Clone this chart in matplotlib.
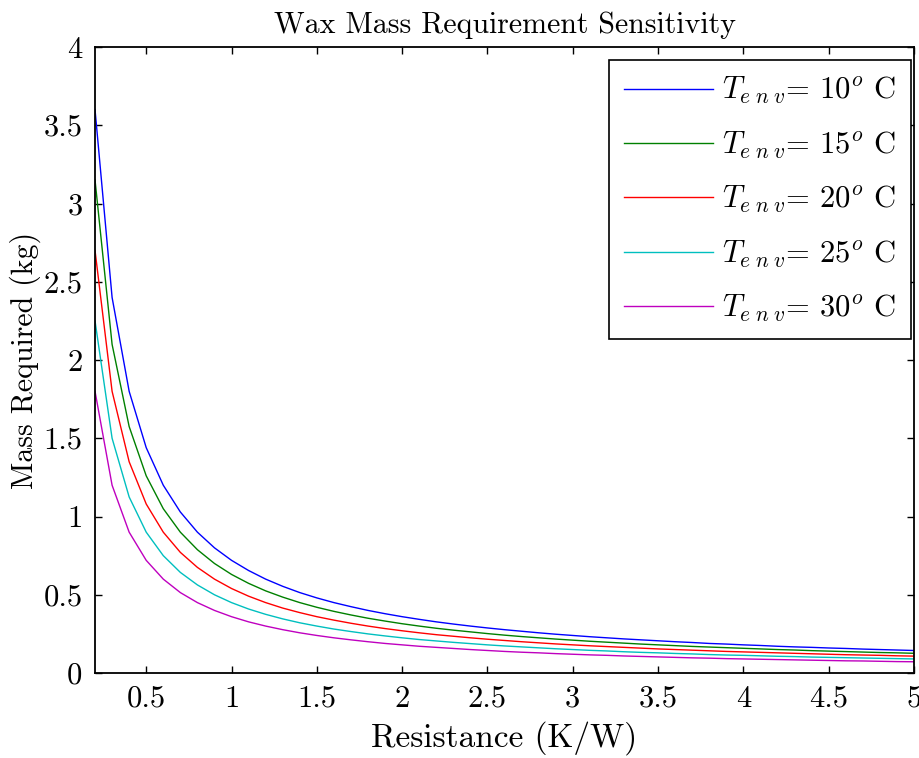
import matplotlib
matplotlib.use("Agg")
import matplotlib.pyplot as plt
import numpy as np

plt.rcParams['font.family'] = ['cmr10', 'DejaVu Serif']
plt.rcParams['mathtext.fontset'] = 'cm'
plt.rcParams['axes.formatter.use_mathtext'] = True

# thermal resistance (K/W)
resistance = [0.2, 0.3, 0.4, 0.5, 0.6, 0.7, 0.8, 0.9, 1.0,
              1.1, 1.2, 1.3, 1.4, 1.5, 1.6, 1.7, 1.8, 1.9, 2.0,
              2.1, 2.2, 2.3, 2.4, 2.5, 2.6, 2.7, 2.8, 2.9, 3.0,
              3.1, 3.2, 3.3, 3.4, 3.5, 3.6, 3.7, 3.8, 3.9, 4.0,
              4.1, 4.2, 4.3, 4.4, 4.5, 4.6, 4.7, 4.8, 4.9, 5.0]

# wax mass (kg) for each environment temperature
mass_10 = [3.600, 2.400, 1.800, 1.440, 1.200, 1.029, 0.900, 0.800, 0.720,
           0.655, 0.600, 0.554, 0.514, 0.480, 0.450, 0.424, 0.400, 0.379, 0.360,
           0.343, 0.327, 0.313, 0.300, 0.288, 0.277, 0.267, 0.257, 0.248, 0.240,
           0.232, 0.225, 0.218, 0.212, 0.206, 0.200, 0.195, 0.189, 0.185, 0.180,
           0.176, 0.171, 0.167, 0.164, 0.160, 0.157, 0.153, 0.150, 0.147, 0.144]
mass_15 = [3.150, 2.100, 1.575, 1.260, 1.050, 0.900, 0.788, 0.700, 0.630,
           0.573, 0.525, 0.485, 0.450, 0.420, 0.394, 0.371, 0.350, 0.332, 0.315,
           0.300, 0.286, 0.274, 0.263, 0.252, 0.242, 0.233, 0.225, 0.217, 0.210,
           0.203, 0.197, 0.191, 0.185, 0.180, 0.175, 0.170, 0.166, 0.162, 0.158,
           0.154, 0.150, 0.147, 0.143, 0.140, 0.137, 0.134, 0.131, 0.129, 0.126]
mass_20 = [2.700, 1.800, 1.350, 1.080, 0.900, 0.771, 0.675, 0.600, 0.540,
           0.491, 0.450, 0.415, 0.386, 0.360, 0.338, 0.318, 0.300, 0.284, 0.270,
           0.257, 0.245, 0.235, 0.225, 0.216, 0.208, 0.200, 0.193, 0.186, 0.180,
           0.174, 0.169, 0.164, 0.159, 0.154, 0.150, 0.146, 0.142, 0.138, 0.135,
           0.132, 0.129, 0.126, 0.123, 0.120, 0.117, 0.115, 0.113, 0.110, 0.108]
mass_25 = [2.250, 1.500, 1.125, 0.900, 0.750, 0.643, 0.563, 0.500, 0.450,
           0.409, 0.375, 0.346, 0.321, 0.300, 0.281, 0.265, 0.250, 0.237, 0.225,
           0.214, 0.205, 0.196, 0.188, 0.180, 0.173, 0.167, 0.161, 0.155, 0.150,
           0.145, 0.141, 0.136, 0.132, 0.129, 0.125, 0.122, 0.118, 0.115, 0.113,
           0.110, 0.107, 0.105, 0.102, 0.100, 0.098, 0.096, 0.094, 0.092, 0.090]
mass_30 = [1.800, 1.200, 0.900, 0.720, 0.600, 0.514, 0.450, 0.400, 0.360,
           0.327, 0.300, 0.277, 0.257, 0.240, 0.225, 0.212, 0.200, 0.189, 0.180,
           0.171, 0.164, 0.157, 0.150, 0.144, 0.138, 0.133, 0.129, 0.124, 0.120,
           0.116, 0.113, 0.109, 0.106, 0.103, 0.100, 0.097, 0.095, 0.092, 0.090,
           0.088, 0.086, 0.084, 0.082, 0.080, 0.078, 0.077, 0.075, 0.073, 0.072]

temps = [10, 15, 20, 25, 30]
series = [mass_10, mass_15, mass_20, mass_25, mass_30]
colors = ['b', 'g', 'r', 'c', 'm']

fig = plt.figure(figsize=(9.19, 7.58), dpi=100)
ax = fig.add_axes([0.1034, 0.1121, 0.8912, 0.8259])

for t, m, c in zip(temps, series, colors):
    ax.plot(resistance, m, color=c, linewidth=1.0,
            label=r'$T_{e\;n\;v}$= %d$^{o}$ C' % t)

ax.set_xlim(0.2, 5)
ax.set_ylim(0, 4)
ax.set_xticks(np.arange(0.5, 5.01, 0.5))
ax.set_yticks(np.arange(0, 4.01, 0.5))
ax.set_xticklabels(['0.5', '1', '1.5', '2', '2.5', '3', '3.5', '4', '4.5', '5'])
ax.set_yticklabels(['0', '0.5', '1', '1.5', '2', '2.5', '3', '3.5', '4'])
ax.tick_params(direction='in', length=5, width=1, top=True, right=True,
               labelsize=22)
ax.tick_params(axis='x', pad=9)
ax.tick_params(axis='y', pad=9)
for s in ax.spines.values():
    s.set_linewidth(1.3)

ax.set_title('Wax Mass Requirement Sensitivity', fontsize=21.5, pad=10)
ax.set_xlabel('Resistance (K/W)', fontsize=24, labelpad=6)
ax.set_ylabel('Mass Required (kg)', fontsize=21.5, labelpad=2)

leg = ax.legend(loc='upper right', bbox_to_anchor=(0.9963, 0.9792),
                borderaxespad=0, fontsize=22, frameon=True, fancybox=False,
                edgecolor='k', framealpha=1, handlelength=2.9,
                handletextpad=0.3, labelspacing=0.76, borderpad=0.5)
leg.get_frame().set_linewidth(1.2)

fig.savefig('out.png', dpi=100)
